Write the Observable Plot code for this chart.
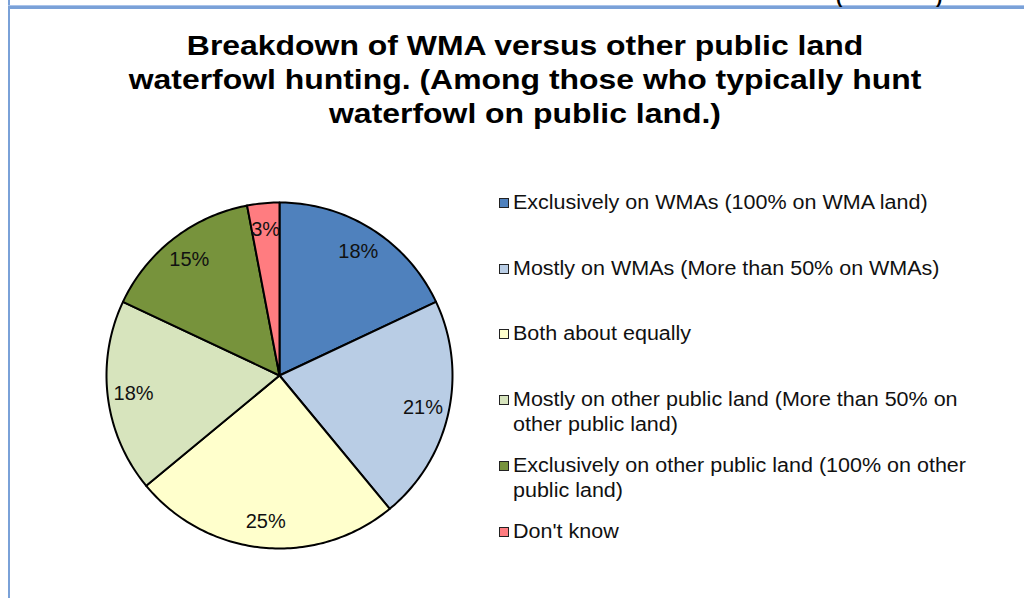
<!DOCTYPE html>
<html>
<head>
<meta charset="utf-8">
<script src="https://cdn.jsdelivr.net/npm/d3@7"></script>
<script src="https://cdn.jsdelivr.net/npm/@observablehq/plot@0.6"></script>
<style>
  html, body { margin: 0; padding: 0; background: #fff; }
  #page { position: relative; width: 1024px; height: 598px; overflow: hidden; font-family: "Liberation Sans", Arial, sans-serif; }
  .frame-top { position: absolute; left: 8px; top: 5px; width: 1016px; height: 3px; background: #7aa1d8; border-top: 1px solid #a9c3ea; }
  .frame-left { position: absolute; left: 8px; top: 0; width: 2px; height: 598px; background: #7aa1d8; }
  #title { position: absolute; left: 26px; width: 998px; top: 29px; text-align: center; font-weight: bold; font-size: 28px; line-height: 34px; color: #000; transform: scaleX(1.14); transform-origin: 50% 0; }
  #chart { position: absolute; left: 0; top: 180px; }
  #legend { position: absolute; left: 499px; top: 0; font-size: 20px; color: #111; }
  .item { position: absolute; left: 0; display: flex; align-items: flex-start; line-height: 25px; white-space: nowrap; }
  .sw { width: 8px; height: 8px; border: 1.5px solid #222; margin-top: 8px; margin-right: 4px; flex: none; }
  .txt { transform: scaleX(1.075); transform-origin: 0 0; }
  .cut { position: absolute; top: -14px; font-size: 19px; font-weight: bold; }
</style>
</head>
<body>
<div id="page">
  <div class="frame-left"></div>
  <div class="frame-top"></div>
  <div class="cut" style="left:836px;">(</div>
  <div class="cut" style="left:936px;">)</div>
  <div id="title">Breakdown of WMA versus other public land<br>waterfowl hunting. (Among those who typically hunt<br>waterfowl on public land.)</div>
  <div id="chart"></div>
  <div id="legend"></div>
</div>
<script>
const categories = [
  "Exclusively on WMAs (100% on WMA land)",
  "Mostly on WMAs (More than 50% on WMAs)",
  "Both about equally",
  "Mostly on other public land (More than 50% on other public land)",
  "Exclusively on other public land (100% on other public land)",
  "Don't know"
];
const legendLines = [
  ["Exclusively on WMAs (100% on WMA land)"],
  ["Mostly on WMAs (More than 50% on WMAs)"],
  ["Both about equally"],
  ["Mostly on other public land (More than 50% on", "other public land)"],
  ["Exclusively on other public land (100% on other", "public land)"],
  ["Don't know"]
];
const values = [18, 21, 25, 18, 15, 3];
const labels = ["18%", "21%", "25%", "18%", "15%", "3%"];
const colors = ["#4f81bd", "#b9cde5", "#ffffcc", "#d7e4bd", "#77933c", "#ff7c80"];

const data = categories.map((c, i) => ({category: c, value: values[i], label: labels[i], color: colors[i]}));
const arcs = d3.pie().sort(null).value(d => d.value)(data);

// polygon vertices for each slice (angle 0 = top, clockwise), unit radius
const pts = [];
arcs.forEach((a, i) => {
  pts.push({k: i, x: 0, y: 0});
  const n = Math.max(2, Math.ceil((a.endAngle - a.startAngle) / (Math.PI / 180)));
  for (let j = 0; j <= n; j++) {
    const t = a.startAngle + (a.endAngle - a.startAngle) * j / n;
    pts.push({k: i, x: Math.sin(t), y: Math.cos(t)});
  }
  pts.push({k: i, x: 0, y: 0});
});
const labelR = 0.85;
const labelPts = arcs.map((a, i) => {
  const t = (a.startAngle + a.endAngle) / 2;
  return {x: labelR * Math.sin(t), y: labelR * Math.cos(t), label: a.data.label};
});

const plot = Plot.plot({
  width: 480,
  height: 390,
  marginLeft: 106,
  marginRight: 28,
  marginTop: 22,
  marginBottom: 22,
  x: {domain: [-1, 1], axis: null},
  y: {domain: [-1, 1], axis: null},
  style: {background: "transparent", overflow: "visible"},
  marks: [
    Plot.line(pts, {
      x: "x", y: "y", z: "k",
      fill: d => colors[d.k],
      stroke: "#000", strokeWidth: 2, strokeLinejoin: "round",
      curve: "linear"
    }),
    Plot.text(labelPts, {
      x: "x", y: "y", text: "label",
      fontSize: 20, fill: "#111",
      fontFamily: "Liberation Sans, Arial, sans-serif"
    })
  ],
  color: {type: "identity"}
});
document.getElementById("chart").appendChild(plot);

const legendTops = [190, 256, 321, 387, 453, 519];
const legend = document.getElementById("legend");
legendLines.forEach((lines, i) => {
  const item = document.createElement("div");
  item.className = "item";
  item.style.top = legendTops[i] + "px";
  const sw = document.createElement("div");
  sw.className = "sw";
  sw.style.background = colors[i];
  const txt = document.createElement("div");
  txt.className = "txt";
  txt.innerHTML = lines.join("<br>");
  item.appendChild(sw);
  item.appendChild(txt);
  legend.appendChild(item);
});
</script>
</body>
</html>
